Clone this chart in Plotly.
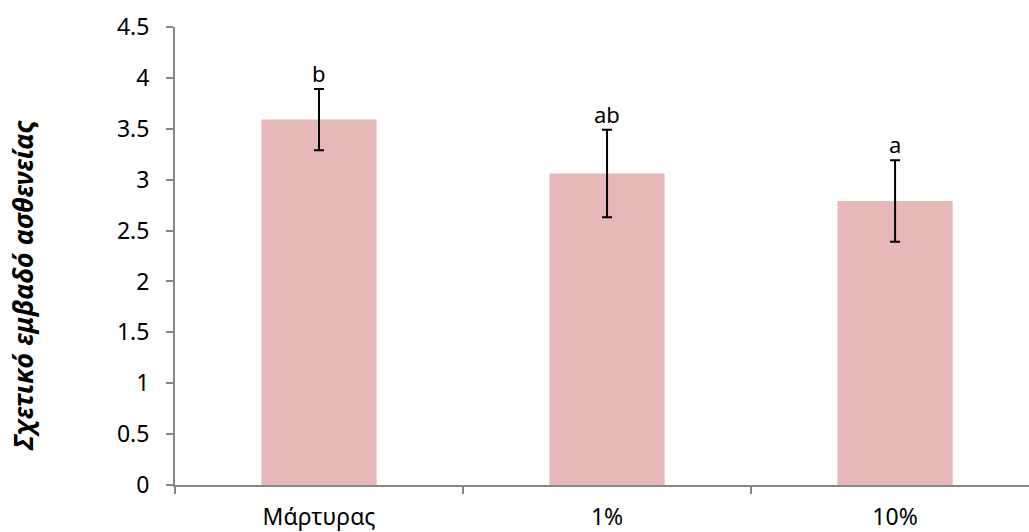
import plotly.graph_objects as go

categories = ["Μάρτυρας", "1%", "10%"]
means = [3.59, 3.06, 2.79]
errors = [0.30, 0.43, 0.40]
letters = ["b", "ab", "a"]

AXIS_GREY = "#878787"
FONT = "Noto Sans"
TICK_SIZE = 23
LEFT, TOP, BOTTOM = 175, 27, 45
W, H = 1029, 532

fig = go.Figure()
fig.add_trace(go.Bar(
    x=categories,
    y=means,
    width=0.4,
    marker=dict(color="#E6B9B8", line=dict(width=0)),
    error_y=dict(type="data", array=errors, visible=True,
                 color="black", thickness=2, width=5),
    showlegend=False,
))

# significance letters sitting just above each error bar
for cat, m, e, lab in zip(categories, means, errors, letters):
    fig.add_annotation(x=cat, y=m + e, text=lab, showarrow=False,
                       yanchor="bottom", yshift=-1,
                       font=dict(family=FONT, size=TICK_SIZE - 1, color="black"))

# rotated y-axis title placed explicitly in the left margin
plot_w = W - LEFT
plot_h = H - TOP - BOTTOM
fig.add_annotation(
    xref="paper", yref="paper",
    x=(23 - LEFT) / plot_w, y=(H - BOTTOM - 287) / plot_h,
    xanchor="center", yanchor="middle",
    text="<b><i>Σχετικό εμβαδό ασθενείας</i></b>",
    textangle=-90, showarrow=False,
    font=dict(family=FONT, size=27, color="black"),
)

fig.update_layout(
    width=W, height=H,
    margin=dict(l=LEFT, r=0, t=TOP, b=BOTTOM),
    plot_bgcolor="white", paper_bgcolor="white",
    font=dict(family=FONT, size=TICK_SIZE, color="black"),
)
fig.update_xaxes(
    type="category",
    range=[-0.5, 2.465],
    showline=True, linecolor=AXIS_GREY, linewidth=2,
    ticks="outside", tickson="boundaries", ticklen=7,
    tickcolor=AXIS_GREY, tickwidth=2,
    ticklabelstandoff=10,
    showgrid=False,
    tickfont=dict(family=FONT, size=TICK_SIZE),
)
fig.update_yaxes(
    range=[0, 4.5], dtick=0.5, tick0=0,
    showline=True, linecolor=AXIS_GREY, linewidth=2,
    ticks="outside", ticklen=7, tickcolor=AXIS_GREY, tickwidth=2,
    ticklabelstandoff=12,
    showgrid=False, zeroline=False,
    tickfont=dict(family=FONT, size=TICK_SIZE),
)

fig.write_html("out.html")
